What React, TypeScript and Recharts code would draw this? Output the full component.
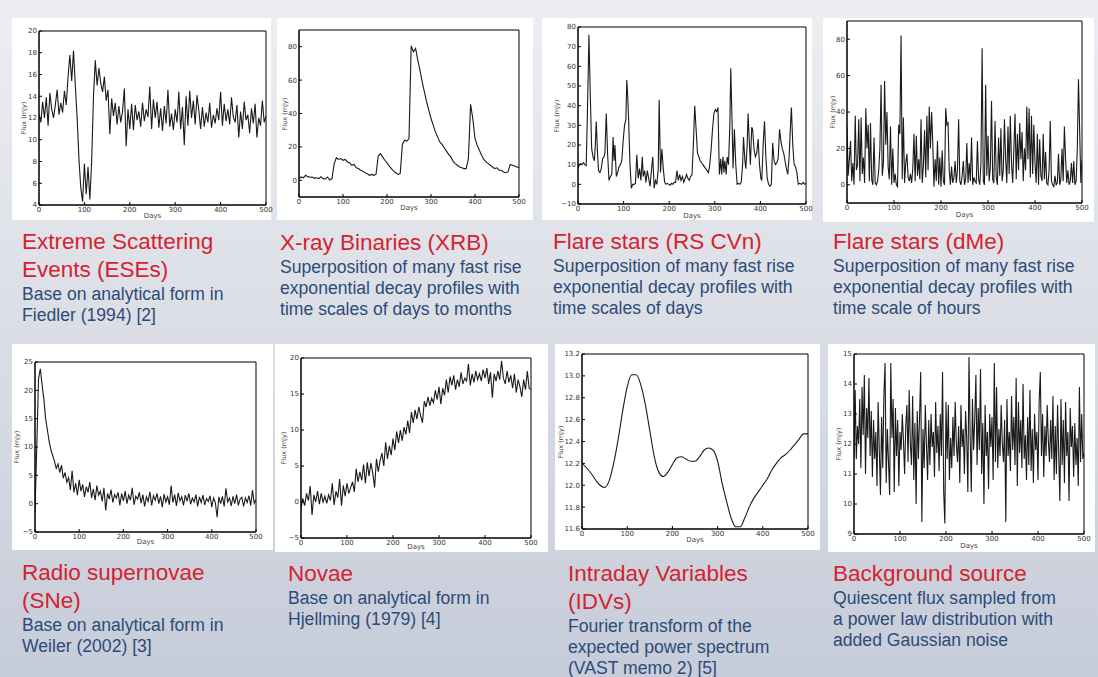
import React from 'react'
import { LineChart, Line, XAxis, YAxis, ReferenceArea } from 'recharts'

const DAY_TICKS = [0, 100, 200, 300, 400, 500]

// Extreme scattering event, one sample every 4 days
const eseStep = 4
const eseFlux = [
  12.3, 11.6, 13.5, 12.0, 13.9, 11.3, 14.3, 12.8, 12.0, 13.2,
  14.6, 12.3, 13.4, 12.5, 14.5, 13.2, 15.8, 17.8, 15.4, 18.2,
  15.0, 12.0, 8.2, 5.6, 4.3, 7.8, 5.0, 7.5, 4.5, 8.0,
  14.0, 17.3, 15.0, 16.6, 15.2, 14.4, 15.8, 13.6, 14.6, 10.5,
  13.8, 12.2, 13.4, 11.4, 13.1, 11.6, 12.6, 14.7, 9.4, 12.8,
  11.0, 13.3, 10.9, 13.2, 11.8, 12.6, 11.2, 13.4, 11.7, 12.8,
  12.1, 14.9, 11.0, 13.7, 12.0, 13.5, 11.1, 12.9, 10.8, 13.1,
  11.5, 14.6, 11.2, 12.4, 10.9, 12.8, 11.6, 14.4, 11.0, 13.0,
  9.5, 14.0, 11.3, 14.5, 12.0, 13.6, 11.4, 14.1, 12.7, 11.0,
  13.0, 11.2, 12.5, 11.6, 13.4, 11.1, 12.3, 11.5, 12.9, 11.8,
  14.4, 11.3, 13.3, 11.7, 12.8, 11.4, 13.9, 12.1, 11.6, 13.2,
  10.2, 12.6, 11.0, 13.5, 11.8, 12.3, 10.6, 12.9, 11.5, 13.3,
  10.2, 12.0, 11.3, 13.6, 11.6, 12.2,
]
const eseTicks = [4, 6, 8, 10, 12, 14, 16, 18, 20]

// X-ray binary, every 5 days
const xrbStep = 5
const xrbFlux = [
  1.0, 2.0, 1.5, 3.0, 2.2, 1.8, 2.0, 1.2, 1.5, 1.0,
  2.2, 1.0, 0.8, 2.0, 0.2, 1.0, 10.0, 13.5, 12.5, 13.0,
  12.0, 12.5, 11.0, 10.5, 9.0, 9.5, 7.5, 7.0, 6.0, 5.5,
  4.5, 4.0, 3.0, 3.5, 3.0, 3.5, 14.5, 16.0, 14.0, 12.0,
  10.5, 8.5, 7.0, 5.5, 4.5, 3.5, 4.0, 21.5, 24.0, 23.5,
  25.0, 80.5, 77.0, 79.0, 72.0, 66.0, 59.0, 53.0, 47.0, 42.0,
  37.0, 33.0, 29.0, 26.0, 23.0, 21.5, 19.5, 17.5, 15.5, 14.0,
  11.5, 10.0, 9.0, 8.0, 7.5, 7.0, 7.0, 13.0, 45.5, 37.0,
  25.0, 21.0, 18.0, 15.0, 12.5, 11.0, 10.0, 9.0, 8.0, 7.0,
  7.5, 6.0, 6.0, 5.0, 4.5, 5.0, 9.5, 9.0, 8.5, 8.0,
  7.5,
]
const xrbTicks = [0, 20, 40, 60, 80]

// RS CVn flare star
const rsDays = [
  0, 3, 6, 9, 12, 15, 18, 21, 24, 27, 30, 33, 36, 38, 40, 43, 45, 48, 51, 54,
  57, 59, 62, 65, 68, 71, 74, 77, 79, 81, 84, 87, 90, 93, 96, 99, 102, 105, 107, 109,
  111, 114, 117, 120, 123, 126, 129, 132, 135, 138, 141, 143, 146, 149, 152, 155, 158, 161, 164, 167,
  170, 173, 176, 178, 181, 184, 187, 190, 193, 196, 199, 202, 205, 208, 211, 214, 217, 220, 223, 226,
  229, 232, 235, 238, 241, 244, 247, 250, 253, 256, 259, 262, 265, 268, 271, 274, 277, 280, 283, 286,
  289, 292, 295, 298, 301, 304, 307, 310, 313, 315, 318, 320, 322, 325, 327, 330, 333, 335, 338, 340,
  343, 346, 349, 352, 355, 358, 361, 363, 366, 368, 371, 373, 376, 378, 381, 383, 386, 389, 392, 395,
  398, 401, 403, 406, 409, 412, 415, 418, 421, 424, 427, 430, 433, 436, 439, 442, 445, 448, 451, 454,
  457, 460, 463, 466, 468, 471, 474, 477, 480, 483, 486, 490, 494, 497, 500,
]
const rsFlux = [
  8, 10, 10.5, 10, 11, 10, 9.5, 40, 76, 45, 18, 14, 12, 20, 32, 15, 7, 6, 8, 13,
  14, 16, 36, 15, 2, 4, 5, 24, 12, 20, 4, 6, 9, 10, 12, 22, 30, 33, 53, 45,
  33, 10, -2, 0, 0, 0.5, 15, 3, 8, 2, 14, 4, 7, 1, 7, 3, -1, 7, 14, -2,
  2, 0, 8, 43, 6, 18, 8, 1, 0, 0.5, 0, -0.5, 0.5, 0, 1, 1, 7, 2, 5, 2,
  4, 1, 3, 5, 3, 2, 4, 5, 20, 40, 28, 16, 14, 12, 11, 10, 9, 8, 7, 6,
  10, 18, 28, 36, 38, 37, 39, 5, 13, 5, 14, 6, 12, 5, 14, 10, 30, 59, 30, 8,
  28, 10, 0, 0.5, 0, 1, 10, 24, 12, 8, 20, 36, 20, 10, 29, 28, 18, 14, 16, 23,
  10, 3, 2, 20, 32, 14, 3, 0, -1, 0, 21, 12, 10, 11, 13, 28, 22, 18, 16, 12,
  8, 5, 14, 30, 39, 20, 10, 9, 6, 0, 0.5, 0, 1, 0, 0.5,
]
const rsTicks = [-10, 0, 10, 20, 30, 40, 50, 60, 70, 80]

// dMe flare star, every 2.5 days
const dmeStep = 2.5
const dmeFlux = [
  32, 5, 14, 24, 2, 12, 0, 38, 8, 11,
  36, 2, 37, 6, 15, 1, 42, 20, 33, 2,
  34, 3, 0, 26, 1, 0, 2, 8, 20, 55,
  5, 12, 57, 22, 40, 10, 3, 32, 0, 20,
  1, 6, 0, -1, 33, 28, 82, 3, 37, 1,
  12, 17, 4, 2, 6, 1, 9, 28, 2, 27,
  5, 14, 3, 36, 1, 10, 30, 4, 38, 8,
  43, 20, 40, 23, -1, 14, 2, 24, 0, 15,
  -1, 19, 2, 0, 42, 33, 34, 8, 0, 10,
  1, 4, 13, 1, 8, 36, 2, 0, 5, 13,
  0, 3, 23, 1, 12, 2, 26, 0, 4, 2,
  1, 24, 3, 0, 12, 75, 2, 0, 55, 5,
  27, 2, 10, 46, 3, 1, 35, 4, 0, 26,
  5, 31, 2, 8, 36, 14, 1, 32, 6, 38,
  12, 1, 20, 39, 3, 28, 8, 34, 14, 29,
  2, 20, 8, 43, 14, 42, 4, 38, 6, 33,
  12, 1, 28, 0, 25, 5, 2, 28, 3, 18,
  1, 0, 8, 35, 2, 0, -1, 5, 0, 1,
  17, 0, 3, 20, 2, 32, 15, 1, 8, 0,
  2, 12, 1, 13, 0, 2, 20, 58, 30, 1,
  14,
]
const dmeTicks = [0, 20, 40, 60, 80]

// Radio supernova, every 4 days
const sneStep = 4
const sneFlux = [
  -1.5, 10.0, 22.0, 23.8, 21.0, 18.5, 15.0, 13.0, 11.0, 9.5,
  8.5, 7.5, 6.2, 7.0, 5.5, 6.8, 4.5, 5.5, 3.8, 4.6,
  2.4, 5.8, 2.0, 3.6, 1.5, 4.2, 2.2, 3.4, 1.2, 3.0,
  2.0, 3.8, 1.0, 2.6, 0.6, 3.2, 1.5, 2.2, 0.4, 2.8,
  -1.2, 1.8, 0.8, 2.5, 0.2, 1.6, 1.0, 2.0, -0.3, 1.8,
  0.5, 2.2, 0.0, 1.5, 0.6, 2.8, -0.2, 1.3, 0.8, 2.0,
  0.1, 1.6, -0.5, 1.2, 0.4, 2.1, -0.3, 1.4, 0.6, 1.8,
  0.0, 1.3, -0.6, 1.7, 0.3, 1.2, -0.2, 3.2, 0.2, 1.6,
  -0.4, 1.9, 0.5, 1.2, -0.3, 1.5, 0.4, 1.8, -0.1, 1.0,
  0.3, 1.6, -0.5, 1.2, 0.2, 1.5, -0.2, 0.9, 0.4, 1.4,
  -0.6, 1.0, 0.2, -2.4, 1.2, 0.0, 1.3, -0.5, 2.7, 0.3,
  1.0, -0.4, 1.3, 0.0, 1.6, -0.3, 0.8, 1.1, -0.5, 1.0,
  0.2, 1.4, -0.3, 2.4, 0.1, 0.7,
]
const sneTicks = [-5, 0, 5, 10, 15, 20, 25]

// Nova, every 4 days
const novaStep = 4
const novaFlux = [
  -1.0, 0.5, -0.5, 1.2, 0.2, 2.2, -1.8, 1.0, 0.0, 1.5,
  -0.3, 1.2, 0.0, 0.8, -0.2, 1.0, 0.2, 2.6, -0.4, 1.5,
  0.6, 3.2, -0.5, 2.3, 0.8, 2.6, 1.2, 2.0, 2.8, 1.4,
  4.6, 2.8, 4.2, 3.0, 5.2, 2.6, 5.5, 3.6, 5.4, 4.0,
  2.0, 6.0, 4.2, 5.8, 6.8, 5.0, 8.3, 6.0, 7.8, 6.5,
  8.8, 7.2, 9.8, 8.2, 10.0, 8.5, 10.4, 9.4, 11.3, 9.6,
  12.5, 11.0, 12.8, 11.5, 13.2, 12.0, 11.0, 14.0, 13.2, 14.6,
  13.4, 14.4, 13.8, 15.5, 14.2, 16.0, 13.6, 15.8, 14.8, 17.0,
  15.2, 17.4, 16.2, 17.6, 15.6, 17.0, 16.0, 18.0, 16.4, 17.2,
  16.8, 19.2, 16.2, 17.8, 16.6, 18.2, 17.0, 17.8, 16.8, 18.4,
  17.2, 18.6, 16.4, 18.0, 14.5, 17.8, 16.8, 18.2, 17.0, 19.6,
  17.2, 16.4, 18.2, 16.6, 17.6, 15.8, 17.8, 15.2, 17.0, 16.0,
  14.6, 17.0, 15.6, 18.2, 15.8, 15.6,
]
const novaTicks = [-5, 0, 5, 10, 15, 20]

// Intraday variable, every 10 days
const idvStep = 10
const idvFlux = [
  12.20, 12.16, 12.11, 12.05, 12.00, 11.98, 12.04, 12.20, 12.42, 12.68,
  12.90, 13.01, 13.01, 12.92, 12.74, 12.50, 12.26, 12.12, 12.08, 12.12,
  12.19, 12.25, 12.26, 12.24, 12.22, 12.22, 12.26, 12.32, 12.34, 12.32,
  12.22, 12.02, 11.85, 11.70, 11.62, 11.62, 11.70, 11.80, 11.88, 11.94,
  12.00, 12.06, 12.14, 12.20, 12.25, 12.28, 12.32, 12.37, 12.42, 12.47,
  12.47,
]
const idvTicks = [11.6, 11.8, 12.0, 12.2, 12.4, 12.6, 12.8, 13.0, 13.2]

// Background source, every 2.5 days
const bgStep = 2.5
const bgFlux = [
  11.6, 13.8, 11.5, 12.6, 12.0, 13.5, 11.2, 13.9, 12.3, 14.3,
  11.0, 13.2, 12.2, 14.2, 11.6, 13.1, 10.9, 12.8, 11.5, 12.4,
  10.6, 13.4, 11.8, 10.3, 12.9, 11.2, 13.6, 14.7, 10.7, 12.5,
  11.4, 10.3, 14.7, 12.2, 13.5, 10.4, 13.2, 11.6, 12.8, 10.6,
  12.4, 11.8, 13.0, 12.1, 11.0, 12.6, 13.3, 11.4, 13.8, 12.0,
  11.3, 13.6, 10.8, 12.7, 10.0, 13.1, 11.5, 12.9, 14.4, 9.4,
  12.5, 11.2, 13.3, 12.0, 10.8, 12.8, 11.3, 13.0, 11.9, 12.4,
  10.9, 13.4, 11.7, 12.6, 11.1, 13.0, 11.6, 14.4, 10.4, 9.35,
  13.4, 11.5, 13.3, 10.8, 12.2, 11.2, 12.9, 11.6, 13.4, 12.0,
  11.4, 12.6, 10.7, 13.3, 11.9, 12.5, 11.0, 13.1, 12.2, 10.4,
  14.9, 12.3, 10.4, 13.5, 11.8, 12.8, 14.3, 11.3, 13.2, 11.8,
  14.5, 11.0, 12.7, 10.0, 13.3, 11.6, 12.4, 10.5, 13.0, 11.9,
  12.9, 10.8, 14.7, 11.4, 13.9, 11.2, 12.5, 11.6, 13.3, 12.0,
  11.4, 12.8, 9.4, 13.5, 11.6, 12.4, 11.1, 13.6, 11.8, 12.9,
  11.3, 14.2, 10.6, 13.4, 11.7, 12.8, 11.2, 14.0, 11.5, 12.3,
  10.8, 12.9, 11.3, 13.8, 11.1, 12.5, 10.7, 13.0, 11.8, 12.4,
  10.8, 13.4, 14.4, 11.6, 13.0, 10.9, 12.6, 11.6, 13.3, 12.1,
  11.4, 12.8, 11.5, 13.6, 10.8, 12.6, 11.0, 13.3, 11.7, 10.1,
  13.5, 11.3, 12.8, 10.7, 13.4, 11.6, 12.4, 10.1, 13.2, 11.9,
  12.6, 10.9, 12.7, 11.3, 12.2, 10.6, 13.9, 11.4, 13.0, 11.5,
  11.7,
]
const bgTicks = [9, 10, 11, 12, 13, 14, 15]

const titles = [
  ['Extreme Scattering', 'Events (ESEs)'],
  ['X-ray Binaries (XRB)'],
  ['Flare stars (RS CVn)'],
  ['Flare stars (dMe)'],
  ['Radio supernovae', '(SNe)'],
  ['Novae'],
  ['Intraday Variables', '(IDVs)'],
  ['Background source'],
]
const notes = [
  ['Base on analytical form in', 'Fiedler (1994) [2]'],
  ['Superposition of many fast rise', 'exponential decay profiles with', 'time scales of days to months'],
  ['Superposition of many fast rise', 'exponential decay profiles with', 'time scales of days'],
  ['Superposition of many fast rise', 'exponential decay profiles with', 'time scale of hours'],
  ['Base on analytical form in', 'Weiler (2002) [3]'],
  ['Base on analytical form in', 'Hjellming (1979) [4]'],
  ['Fourier transform of the', 'expected power spectrum', '(VAST memo 2) [5]'],
  ['Quiescent flux sampled from', 'a power law distribution with', 'added Gaussian noise'],
]

type Rect = { x: number; y: number; w: number; h: number }
type Row = { d: number; f: number }

const uniform = (step: number, flux: number[]): Row[] => flux.map((f, i) => ({ d: i * step, f }))
const paired = (days: number[], flux: number[]): Row[] => days.map((d, i) => ({ d, f: flux[i] }))

const tickFont = { fontSize: 7, fill: '#333', fontFamily: '"DejaVu Sans", sans-serif' }
const ink = { stroke: '#000', strokeWidth: 1 }

function Curve(props: {
  box: Rect; plot: Rect; rows: Row[]; domain: [number, number]; ticks: number[]
  digits?: number; smooth?: boolean; fluxX: number; daysY: number
}) {
  const { box, plot, rows, domain, ticks, digits = 0, smooth = false, fluxX, daysY } = props
  const top = plot.y - box.y
  const right = box.x + box.w - (plot.x + plot.w)
  const yw = plot.x - box.x
  const xh = box.y + box.h - (plot.y + plot.h)
  const fmt = (v: number) => v.toFixed(digits).replace('-', '\u2212')
  return (
    <div style={{ position: 'absolute', left: box.x, top: box.y, width: box.w, height: box.h, background: '#fff' }}>
      <LineChart width={box.w} height={box.h} data={rows} margin={{ top, right, bottom: 0, left: 0 }}>
        <XAxis xAxisId="b" dataKey="d" type="number" domain={[0, 500]} ticks={DAY_TICKS} interval={0}
          height={xh} axisLine={ink} tickSize={3} tickMargin={-1}
          tickLine={{ ...ink, transform: 'translate(0,-3)' }} tick={tickFont} allowDataOverflow />
        <XAxis xAxisId="t" orientation="top" dataKey="d" type="number" domain={[0, 500]} ticks={DAY_TICKS}
          interval={0} height={0} mirror tick={false} tickSize={3} axisLine={ink} tickLine={ink} allowDataOverflow />
        <YAxis yAxisId="l" type="number" domain={domain} ticks={ticks} interval={0} width={yw}
          axisLine={ink} tickSize={3} tickMargin={-1} tickLine={{ ...ink, transform: 'translate(3,0)' }}
          tick={tickFont} tickFormatter={fmt} allowDataOverflow />
        <YAxis yAxisId="r" orientation="right" type="number" domain={domain} ticks={ticks} interval={0}
          width={0} mirror tick={false} tickSize={3} axisLine={ink} tickLine={ink} allowDataOverflow />
        <ReferenceArea xAxisId="b" yAxisId="l" x1={0} x2={500} y1={domain[0]} y2={domain[1]}
          fill="none" fillOpacity={0} stroke="#000" strokeWidth={1} ifOverflow="visible" />
        <Line xAxisId="t" yAxisId="r" dataKey="f" stroke="none" strokeWidth={0} dot={false}
          activeDot={false} isAnimationActive={false} />
        <Line xAxisId="b" yAxisId="l" dataKey="f" type={smooth ? 'monotone' : 'linear'}
          stroke="#1a1a1a" strokeWidth={1.1} dot={false} isAnimationActive={false} />
      </LineChart>
      <div style={{
        position: 'absolute', left: fluxX - box.x, top: plot.y - box.y + plot.h / 2,
        transform: 'translate(-50%,-50%) rotate(-90deg)', fontSize: 6.5, color: '#444',
        fontFamily: '"DejaVu Sans", sans-serif', whiteSpace: 'nowrap',
      }}>Flux (mJy)</div>
      <div style={{
        position: 'absolute', left: plot.x - box.x + plot.w / 2, top: daysY - box.y,
        transform: 'translate(-50%,-50%)', fontSize: 7, color: '#444',
        fontFamily: '"DejaVu Sans", sans-serif',
      }}>Days</div>
    </div>
  )
}

function Caption({ x, y, title, note }: { x: number; y: number; title: string[]; note: string[] }) {
  return (
    <div style={{ position: 'absolute', left: x, top: y, whiteSpace: 'nowrap', fontFamily: '"Liberation Sans", Arial, sans-serif' }}>
      {title.map((t) => (
        <div key={t} style={{ color: '#d52230', fontSize: 22.5, lineHeight: '28px' }}>{t}</div>
      ))}
      {note.map((t) => (
        <div key={t} style={{ color: '#2d4b78', fontSize: 17.6, lineHeight: '21px' }}>{t}</div>
      ))}
    </div>
  )
}

const captionSpots = [
  { x: 22, y: 228 }, { x: 280, y: 229 }, { x: 553, y: 228 }, { x: 833, y: 228 },
  { x: 22, y: 559 }, { x: 288, y: 560 }, { x: 568, y: 560 }, { x: 833, y: 560 },
]

export default function App() {
  return (
    <div style={{
      position: 'absolute', left: 0, top: 0, width: 1098, height: 677, overflow: 'hidden',
      background: 'linear-gradient(to bottom, #eceef2 0%, #dcdfe6 45%, #c6ccd9 100%)',
    }}>
      <style>{'.recharts-surface{overflow:visible}.recharts-wrapper{overflow:visible}'}</style>
      <Curve box={{ x: 12, y: 18, w: 259, h: 202 }} plot={{ x: 39, y: 31, w: 227, h: 174 }}
        rows={uniform(eseStep, eseFlux)} domain={[4, 20]} ticks={eseTicks} fluxX={24} daysY={216} />
      <Curve box={{ x: 277, y: 18, w: 256, h: 202 }} plot={{ x: 299, y: 30, w: 220, h: 167 }}
        rows={uniform(xrbStep, xrbFlux)} domain={[-10, 90]} ticks={xrbTicks} fluxX={285} daysY={208} />
      <Curve box={{ x: 542, y: 18, w: 270, h: 202 }} plot={{ x: 578, y: 27, w: 228, h: 177 }}
        rows={paired(rsDays, rsFlux)} domain={[-10, 80]} ticks={rsTicks} fluxX={557} daysY={216} />
      <Curve box={{ x: 823, y: 18, w: 271, h: 204 }} plot={{ x: 847, y: 21, w: 235, h: 182 }}
        rows={uniform(dmeStep, dmeFlux)} domain={[-10, 90]} ticks={dmeTicks} fluxX={833} daysY={215} />
      <Curve box={{ x: 12, y: 344, w: 261, h: 206 }} plot={{ x: 35, y: 362, w: 221, h: 170 }}
        rows={uniform(sneStep, sneFlux)} domain={[-5, 25]} ticks={sneTicks} fluxX={17} daysY={542} />
      <Curve box={{ x: 275, y: 344, w: 273, h: 208 }} plot={{ x: 301, y: 358, w: 230, h: 180 }}
        rows={uniform(novaStep, novaFlux)} domain={[-5, 20]} ticks={novaTicks} fluxX={284} daysY={547} />
      <Curve box={{ x: 555, y: 344, w: 265, h: 206 }} plot={{ x: 582, y: 354, w: 226, h: 175 }}
        rows={uniform(idvStep, idvFlux)} domain={[11.6, 13.2]} ticks={idvTicks} digits={1} smooth
        fluxX={561} daysY={540} />
      <Curve box={{ x: 828, y: 344, w: 267, h: 208 }} plot={{ x: 854, y: 354, w: 230, h: 180 }}
        rows={uniform(bgStep, bgFlux)} domain={[9, 15]} ticks={bgTicks} fluxX={839} daysY={546} />
      {captionSpots.map((s, i) => (
        <Caption key={i} x={s.x} y={s.y} title={titles[i]} note={notes[i]} />
      ))}
    </div>
  )
}
